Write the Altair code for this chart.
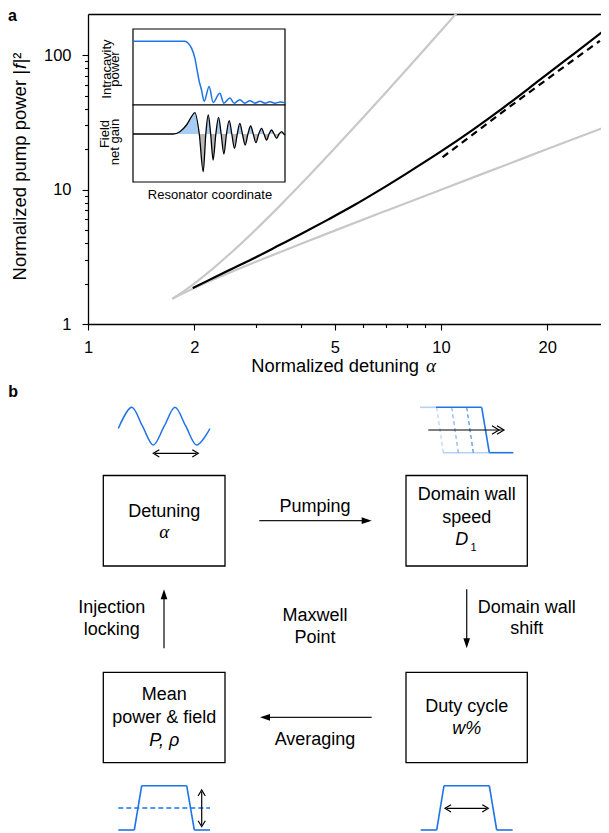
import altair as alt
import pandas as pd

FONT = "Liberation Sans"
SERIF = "Liberation Serif"
BLUE = "#1e74e6"
LBLUE = "#a8cdf4"
PALE = "#b5d2f5"
GRAY = "#c8c8c8"
SHADE = "#b9b9b9"

# ---------------- panel a: curves ----------------
up_alpha = [1.732, 1.75, 1.8, 1.9, 2.0, 2.25, 2.5, 3.0, 3.5, 4.0, 5.0, 6.0, 7.0, 8.0, 9.0, 10.0, 11.0, 12.0]
up_pump = [1.54, 1.565, 1.641, 1.81, 2.0, 2.563, 3.257, 5.089, 7.593, 10.88, 20.24, 34.04, 53.18, 78.55, 111.0, 151.5, 200.9, 260.0]
lo_alpha = [1.732, 1.75, 1.8, 1.9, 2.0, 2.5, 3.0, 4.0, 5.0, 7.0, 10.0, 15.0, 20.0, 30.0]
lo_pump = [1.54, 1.5625, 1.623, 1.739, 1.852, 2.39, 2.911, 3.935, 4.949, 6.964, 9.975, 14.98, 19.99, 29.99]
mx_alpha = [1.98, 2.2, 2.5, 3.0, 3.5, 4.0, 4.8, 5.7, 6.7, 8.0, 10.0, 12.3, 15.0, 19.0, 24.0, 30.0]
mx_pump = [1.85, 2.12, 2.50, 3.15, 3.88, 4.65, 6.0, 7.7, 9.9, 13.2, 19.2, 27.8, 40.5, 65.0, 104.0, 163.0]
as_alpha = [10.1, 12.0, 15.0, 19.0, 24.0, 28.2]
as_pump = [17.4, 24.4, 38.0, 60.0, 94.0, 127.6]

x_major = [1, 2, 5, 10, 20]
x_ticks = [1, 2, 3, 4, 5, 6, 7, 8, 9, 10, 20]
y_major = [1, 10, 100]
y_ticks = [1, 2, 3, 4, 5, 6, 7, 8, 9, 10, 20, 30, 40, 50, 60, 70, 80, 90, 100]

# inset: intracavity power and field net gain vs resonator coordinate
pow_u = [0.0, 0.30, 0.341, 0.363, 0.385, 0.407, 0.422, 0.435, 0.451, 0.468, 0.501, 0.527, 0.571, 0.598,
         0.637, 0.666, 0.703, 0.736, 0.769, 0.802, 0.835, 0.868, 0.901, 0.934, 0.967, 1.0]
pow_v = [1.0, 1.0, 1.0, 0.97, 0.89, 0.73, 0.53, 0.36, 0.21, 0.03, 0.27, 0.01, 0.16, 0.0,
         0.085, 0.0, 0.056, 0.0, 0.04, 0.0, 0.03, 0.0, 0.022, 0.0, 0.017, 0.005]
gain_u = [0.0, 0.264, 0.308, 0.352, 0.385, 0.407, 0.436, 0.462, 0.479, 0.495, 0.511, 0.527, 0.545, 0.563,
          0.580, 0.598, 0.615, 0.633, 0.650, 0.668, 0.686, 0.703, 0.720, 0.738, 0.756, 0.774, 0.791,
          0.809, 0.827, 0.846, 0.862, 0.879, 0.895, 0.912, 0.928, 0.945, 0.961, 0.978, 0.992, 1.0]
gain_v = [0.0, 0.0, 0.07, 0.27, 0.52, 0.64, 0.0, -1.13, 0.0, 0.57, 0.0, -0.78, 0.0, 0.50,
          0.0, -0.60, 0.0, 0.40, 0.0, -0.43, 0.0, 0.32, 0.0, -0.33, 0.0, 0.24, 0.0,
          -0.26, 0.0, 0.17, 0.0, -0.18, 0.0, 0.12, 0.0, -0.13, 0.0, 0.07, 0.0, -0.03]

W, H = 513, 310
XMAX, YMAX = 28.4, 202

xs = alt.Scale(type="log", domain=[1, XMAX], nice=False)
ys = alt.Scale(type="log", domain=[1, YMAX], nice=False)


def cond_size(major):
    return {"condition": {"test": f"indexof({major}, datum.value) >= 0", "value": 6}, "value": 3.5}


common_axis = dict(domainColor="black", domainWidth=1.3, tickColor="black", tickWidth=1.1,
                   labelFont=FONT, labelFontSize=16.5, labelColor="black", labelFlush=False,
                   labelOverlap=False, grid=False, title=None)
x_axis = alt.Axis(orient="bottom", values=x_ticks, tickSize=cond_size(x_major), labelPadding=9.5,
                  labelExpr=f"indexof({x_major}, datum.value) >= 0 ? '' + datum.value : ''", **common_axis)
y_axis = alt.Axis(orient="left", values=y_ticks, tickSize=cond_size(y_major), labelPadding=11,
                  labelExpr=f"indexof({y_major}, datum.value) >= 0 ? '' + datum.value : ''", **common_axis)
top_axis = alt.Axis(orient="top", ticks=False, labels=False, domainColor="black", domainWidth=1.3,
                    grid=False, title=None)


def curve(a, f, xaxis=None, yaxis=None, **mark):
    d = pd.DataFrame({"a": a, "f": f})
    return alt.Chart(d).mark_line(clip=True, interpolate="monotone", **mark).encode(
        x=alt.X("a:Q", scale=xs, axis=xaxis),
        y=alt.Y("f:Q", scale=ys, axis=yaxis),
    )


curves = [
    curve(up_alpha, up_pump, xaxis=top_axis, color=GRAY, strokeWidth=2.2),
    curve(lo_alpha, lo_pump, yaxis=y_axis, color=GRAY, strokeWidth=2.2),
    curve(mx_alpha, mx_pump, xaxis=x_axis, color="black", strokeWidth=2.2),
    curve(as_alpha, as_pump, color="black", strokeWidth=2.2, strokeDash=[7, 5]),
]

XI = alt.Scale(domain=[0, 1], range=[45, 197], nice=False, zero=False)
PI = alt.Scale(domain=[-0.03, 1.2], range=[91, 15], nice=False, zero=False)
GI = alt.Scale(domain=[-1.44, 0.87], range=[168, 91], nice=False, zero=False)

gain_base = alt.Chart(pd.DataFrame({"u": gain_u, "g": gain_v})).transform_calculate(
    gp="max(datum.g, 0)", gn="min(datum.g, 0)", z="0")

inset = [
    alt.Chart(pd.DataFrame({"u0": [0.0], "u1": [1.0], "p0": [-0.03], "p1": [1.2]})).mark_rect(
        fill="white", stroke="black", strokeWidth=1.2).encode(
        x=alt.X("u0:Q", scale=XI, axis=None), x2="u1",
        y=alt.Y("p0:Q", scale=PI, axis=None), y2="p1"),
    alt.Chart(pd.DataFrame({"u": pow_u, "p": pow_v})).mark_line(
        color=BLUE, strokeWidth=1.5, interpolate="monotone").encode(
        x=alt.X("u:Q", scale=XI, axis=None), y=alt.Y("p:Q", scale=PI, axis=None)),
    alt.Chart(pd.DataFrame({"u0": [0.0], "u1": [1.0], "g0": [-1.44], "g1": [0.87]})).mark_rect(
        fill="white", stroke="black", strokeWidth=1.2).encode(
        x=alt.X("u0:Q", scale=XI, axis=None), x2="u1",
        y=alt.Y("g0:Q", scale=GI, axis=None), y2="g1"),
    gain_base.mark_area(color=LBLUE, interpolate="monotone").encode(
        x=alt.X("u:Q", scale=XI, axis=None), y=alt.Y("gp:Q", scale=GI, axis=None), y2="z"),
    gain_base.mark_area(color=SHADE, interpolate="monotone").encode(
        x=alt.X("u:Q", scale=XI, axis=None), y=alt.Y("gn:Q", scale=GI, axis=None), y2="z"),
    gain_base.mark_line(color="black", strokeWidth=1.3, interpolate="monotone").encode(
        x=alt.X("u:Q", scale=XI, axis=None), y=alt.Y("g:Q", scale=GI, axis=None)),
]

ONE = alt.Data(values=[{}])


def label(text, x, y, **mark):
    opts = dict(font=FONT, fontSize=18, color="black", baseline="alphabetic", align="center")
    opts.update(mark)
    return alt.Chart(ONE).mark_text(**opts).encode(
        x=alt.value(x), y=alt.value(y), text=alt.value(text))


a_texts = [
    label("a", -80, -6, fontWeight="bold", fontSize=16, baseline="top", align="left"),
    label("Intracavity", 22.5, 55, fontSize=13, angle=270),
    label("power", 31, 55, fontSize=13, angle=270),
    label("Field", 21, 120, fontSize=13, angle=270),
    label("net gain", 30.5, 128, fontSize=13, angle=270),
    label("Resonator coordinate", 122, 185.3, fontSize=13),
    label("Normalized pump power |", -62, 56, fontSize=18.5, angle=270, align="right"),
    label("f", -62, 55, fontSize=18.5, angle=270, align="left", fontStyle="italic"),
    label("|²", -62, 49.6, fontSize=18.5, angle=270, align="left"),
    label("Normalized detuning", 331, 358, fontSize=18.3, align="right"),
    label("α", 338, 358, font=SERIF, fontSize=19, fontStyle="italic", align="left"),
]

panel_a = alt.layer(*curves, *inset, *a_texts).resolve_scale(
    x="independent", y="independent").properties(width=W, height=H)

# ---------------- panel b: flow diagram layout ----------------
XB = alt.Scale(domain=[88, 601], range=[0, 513], nice=False, zero=False)
YB = alt.Scale(domain=[383, 832], range=[0, 449], nice=False, zero=False)
BX = alt.X("x:Q", scale=XB, axis=None)
BY = alt.Y("y:Q", scale=YB, axis=None)

box_x0 = [103.3, 406.0, 103.3, 406.0]
box_x1 = [225.0, 527.3, 225.0, 527.3]
box_y0 = [475.5, 475.5, 672.3, 672.3]
box_y1 = [566.0, 566.0, 762.7, 762.7]

plain_text = ["Detuning", "Pumping", "Domain wall", "speed", "Domain wall", "shift", "Maxwell", "Point",
              "Injection", "locking", "Mean", "power & field", "Duty cycle", "Averaging"]
plain_x = [164.3, 315.0, 466.7, 466.7, 526.7, 526.7, 315.0, 315.0, 111.7, 111.7, 164.3, 164.3, 466.7, 315.0]
plain_y = [516.7, 511.7, 500.0, 522.5, 612.7, 634.3, 620.5, 642.7, 613.3, 635.0, 700.0, 722.7, 711.7, 745.0]

shaft = [(259.3, 520.7, 366.5, 520.7), (466.7, 589.3, 466.7, 643.5),
         (371.7, 717.3, 265.0, 717.3), (164.0, 648.3, 164.0, 594.0)]
heads = [(371.7, 520.7, 0), (466.7, 648.3, 90), (260.0, 717.3, 180), (164.0, 589.3, 270)]

blue_solid = [(118.3, 830, 134.3, 830), (134.3, 830, 141.7, 785.7), (141.7, 785.7, 186.7, 785.7),
              (186.7, 785.7, 194.3, 830), (194.3, 830, 210.0, 830),
              (420.7, 830, 436.7, 830), (436.7, 830, 444.0, 785.7), (444.0, 785.7, 489.3, 785.7),
              (489.3, 785.7, 496.7, 830), (496.7, 830, 512.7, 830),
              (436.0, 407.3, 481.7, 407.3), (481.7, 407.3, 489.3, 452.7), (489.3, 452.7, 513.3, 452.7)]
blue_pale = [(420.0, 407.3, 436.0, 407.3), (443.3, 452.7, 489.3, 452.7)]
walls = [(436.7, 407.3, 443.3, 452.7, 0.3), (451.7, 407.3, 458.3, 452.7, 0.5), (466.7, 407.3, 473.3, 452.7, 0.75)]
mean_line = [(118.3, 808.0, 210.0, 808.0)]

icon_shaft = [(155.0, 453.3, 196.5, 453.3), (201.7, 791.7, 201.7, 825.0),
              (446.7, 808.3, 486.7, 808.3), (428.3, 430.0, 503.0, 430.0)]
chev_small = [(153.3, 453.3, 180), (198.3, 453.3, 0), (201.7, 790.0, 270), (201.7, 826.7, 90),
              (445.0, 808.3, 180), (488.3, 808.3, 0)]
chev_big = [(499.0, 430.0, 0), (504.0, 430.0, 0)]

sine_x = [118.3, 131.7, 142.5, 153.3, 164.2, 175.0, 185.8, 196.7, 210.0]
sine_y = [428.5, 407.3, 426.2, 445.0, 426.2, 407.3, 426.2, 445.0, 428.5]

ARROW = "M0,0L-2,-0.67L-2,0.67Z"
CHEV = "M-2,-1.2L0,0L-2,1.2"


def segs(rows, extra=None, **mark):
    cols = ["x", "y", "x2", "y2"] + ([extra] if extra else [])
    d = pd.DataFrame(rows, columns=cols)
    enc = dict(x=BX, y=BY, x2="x2", y2="y2")
    if extra:
        enc["opacity"] = alt.Opacity(f"{extra}:Q", scale=None)
    return alt.Chart(d).mark_rule(**mark).encode(**enc)


def marks_at(rows, **mark):
    d = pd.DataFrame(rows, columns=["x", "y", "ang"])
    return alt.Chart(d).mark_point(opacity=1, **mark).encode(
        x=BX, y=BY, angle=alt.Angle("ang:Q", scale=None))


def btexts(t, x, y, **mark):
    opts = dict(font=FONT, fontSize=18, color="black", baseline="alphabetic", align="center")
    opts.update(mark)
    d = pd.DataFrame({"t": t, "x": x, "y": y})
    return alt.Chart(d).mark_text(**opts).encode(x=BX, y=BY, text="t:N")


panel_b = alt.layer(
    alt.Chart(pd.DataFrame({"x": box_x0, "x2": box_x1, "y": box_y0, "y2": box_y1})).mark_rect(
        fill="white", stroke="black", strokeWidth=1.3).encode(x=BX, x2="x2", y=BY, y2="y2"),
    segs(shaft, color="#1a1a1a", strokeWidth=1.3),
    marks_at(heads, shape=ARROW, filled=True, size=100, color="black", strokeWidth=0),
    segs(blue_pale, color=PALE, strokeWidth=1.6),
    segs(walls, extra="op", color=BLUE, strokeWidth=1.3, strokeDash=[4, 3]),
    segs(blue_solid, color=BLUE, strokeWidth=1.6),
    segs(mean_line, color=BLUE, strokeWidth=1.4, strokeDash=[5, 3]),
    alt.Chart(pd.DataFrame({"x": sine_x, "y": sine_y})).mark_line(
        color=BLUE, strokeWidth=1.5, interpolate="catmull-rom").encode(x=BX, y=BY),
    segs(icon_shaft, color="black", strokeWidth=1.2),
    marks_at(chev_small, shape=CHEV, filled=False, size=36, color="black", strokeWidth=1.2),
    marks_at(chev_big, shape=CHEV, filled=False, size=49, color="black", strokeWidth=1.2),
    btexts(plain_text, plain_x, plain_y),
    btexts(["D", "w%", "P, ρ"], [461.7, 466.7, 164.3], [545.0, 734.0, 745.7], fontStyle="italic"),
    btexts(["1"], [473.5], [550.7], fontSize=11),
    btexts(["α"], [164.3], [538.3], font=SERIF, fontSize=19, fontStyle="italic"),
    btexts(["b"], [8.3], [396.7], fontSize=16, fontWeight="bold", align="left"),
).properties(width=513, height=449)

chart = alt.vconcat(panel_a, panel_b, spacing=59, bounds="flush").configure_view(
    strokeWidth=0).properties(padding=0)

chart.save("out.html", embed_options={"renderer": "svg", "actions": False})
